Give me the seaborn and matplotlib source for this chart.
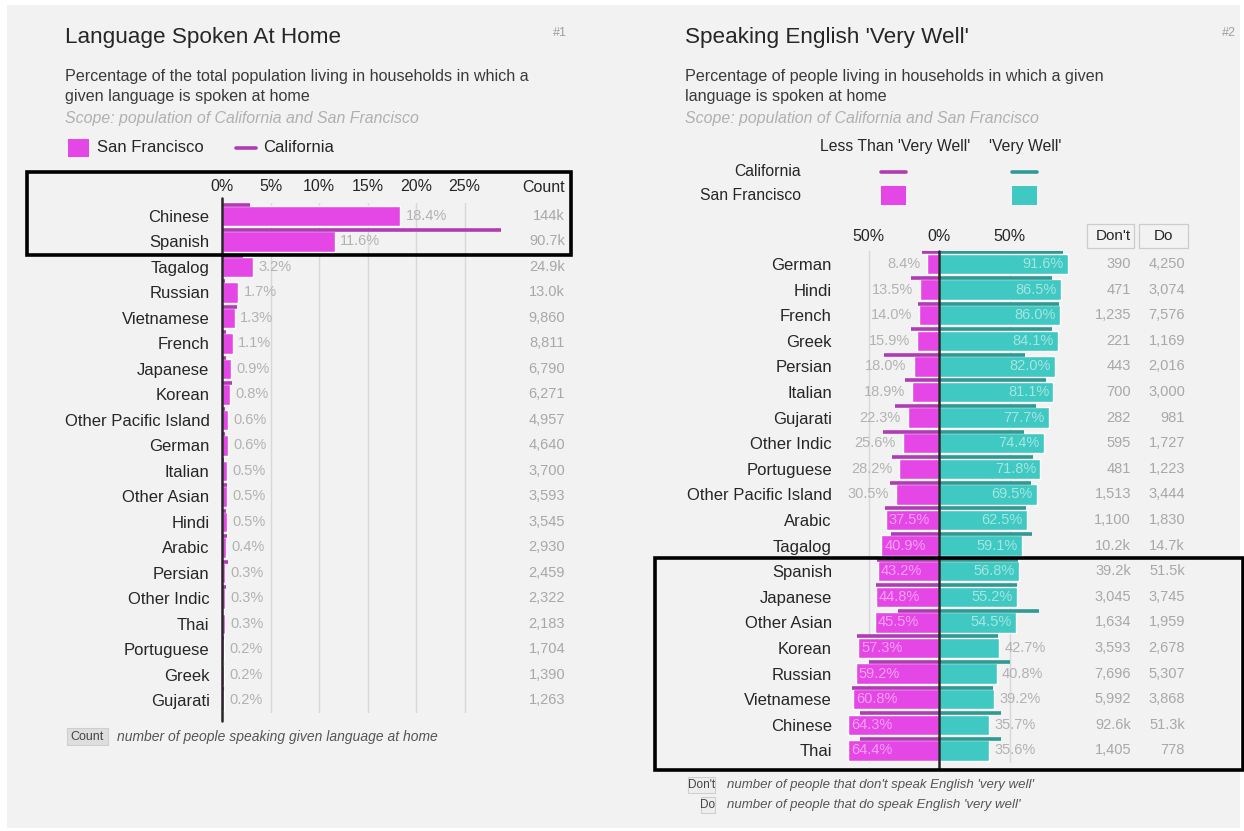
import numpy as np
import matplotlib.pyplot as plt
import matplotlib.transforms as mtransforms
from matplotlib.patches import Rectangle
from matplotlib.lines import Line2D
import seaborn as sns

# --- Data: chart #1, language spoken at home ---
home_langs = ["Chinese", "Spanish", "Tagalog", "Russian", "Vietnamese", "French",
              "Japanese", "Korean", "Other Pacific Island", "German", "Italian",
              "Other Asian", "Hindi", "Arabic", "Persian", "Other Indic", "Thai",
              "Portuguese", "Greek", "Gujarati"]
sf_home_pct = [18.4, 11.6, 3.2, 1.7, 1.3, 1.1, 0.9, 0.8, 0.6, 0.6, 0.5,
               0.5, 0.5, 0.4, 0.3, 0.3, 0.3, 0.2, 0.2, 0.2]
ca_home_pct = [2.9, 28.8, 2.2, 0.3, 1.5, 0.4, 0.4, 1.0, 0.3, 0.3, 0.2,
               0.5, 0.4, 0.5, 0.6, 0.4, 0.1, 0.2, 0.1, 0.2]
home_counts = ["144k", "90.7k", "24.9k", "13.0k", "9,860", "8,811", "6,790", "6,271",
               "4,957", "4,640", "3,700", "3,593", "3,545", "2,930", "2,459", "2,322",
               "2,183", "1,704", "1,390", "1,263"]
home_ticks = [0, 5, 10, 15, 20, 25]

# --- Data: chart #2, speaking English 'very well' ---
eng_langs = ["German", "Hindi", "French", "Greek", "Persian", "Italian", "Gujarati",
             "Other Indic", "Portuguese", "Other Pacific Island", "Arabic", "Tagalog",
             "Spanish", "Japanese", "Other Asian", "Korean", "Russian", "Vietnamese",
             "Chinese", "Thai"]
sf_less = [8.4, 13.5, 14.0, 15.9, 18.0, 18.9, 22.3, 25.6, 28.2, 30.5, 37.5, 40.9,
           43.2, 44.8, 45.5, 57.3, 59.2, 60.8, 64.3, 64.4]
sf_well = [91.6, 86.5, 86.0, 84.1, 82.0, 81.1, 77.7, 74.4, 71.8, 69.5, 62.5, 59.1,
           56.8, 55.2, 54.5, 42.7, 40.8, 39.2, 35.7, 35.6]
ca_less = [12, 20, 15, 20, 39, 24, 31, 40, 33, 35, 38, 34, 44, 45, 29, 58, 50, 62, 56, 56]
ca_well = [88, 80, 85, 80, 61, 76, 69, 60, 67, 65, 62, 66, 56, 55, 71, 42, 50, 38, 44, 44]
dont_counts = ["390", "471", "1,235", "221", "443", "700", "282", "595", "481", "1,513",
               "1,100", "10.2k", "39.2k", "3,045", "1,634", "3,593", "7,696", "5,992",
               "92.6k", "1,405"]
do_counts = ["4,250", "3,074", "7,576", "1,169", "2,016", "3,000", "981", "1,727", "1,223",
             "3,444", "1,830", "14.7k", "51.5k", "3,745", "1,959", "2,678", "5,307",
             "3,868", "51.3k", "778"]
eng_ticks = [-50, 0, 50]

# --- Style ---
sns.set_theme(style="white")
plt.rcParams["font.family"] = ["Liberation Sans", "DejaVu Sans"]

MAGENTA = "#e546e6"
CA_MAGENTA = "#b03cb4"
TEAL = "#40c8c2"
CA_TEAL = "#2f9994"
IN_MAGENTA = "#f3a2f3"
IN_TEAL = "#a4e6e2"
DARK = "#262626"
GRAY = "#b2b2b2"
BG = "#f2f2f2"

W, H = 1244, 831
fig = plt.figure(figsize=(W / 100, H / 100), dpi=100)
fig.patch.set_facecolor("white")


def fx(px):
    return px / W


def fy(py):
    return 1 - py / H


def px_axes(left, top, right, bottom):
    return fig.add_axes([fx(left), fy(bottom), (right - left) / W, (bottom - top) / H])


def ftext(px, py, s, **kw):
    kw.setdefault("va", "center")
    kw.setdefault("color", DARK)
    return fig.text(fx(px), fy(py), s, **kw)


def frect(left, top, right, bottom, **kw):
    r = Rectangle((fx(left), fy(bottom)), (right - left) / W, (bottom - top) / H,
                  transform=fig.transFigure, **kw)
    fig.add_artist(r)
    return r


def fline(x0, x1, y, **kw):
    fig.add_artist(Line2D([fx(x0), fx(x1)], [fy(y), fy(y)], transform=fig.transFigure, **kw))


# panel background
frect(7, 5, 1240, 828, facecolor=BG, edgecolor="none", zorder=-20)

# ================= Chart #1 =================
ftext(65, 38, "Language Spoken At Home", fontsize=16.2)
ftext(553, 33, "#1", fontsize=9, color="#a0a0a0")
ftext(65, 77, "Percentage of the total population living in households in which a", fontsize=11.6, color="#3a3a3a")
ftext(65, 97, "given language is spoken at home", fontsize=11.6, color="#3a3a3a")
ftext(65, 118, "Scope: population of California and San Francisco", fontsize=11.4,
      color="#b0b0b0", style="italic")
frect(68, 139, 89, 157, facecolor=MAGENTA, edgecolor="none")
ftext(97, 148, "San Francisco", fontsize=12)
fline(236, 256, 148, color=CA_MAGENTA, lw=2.6)
ftext(263, 148, "California", fontsize=12)

n = len(home_langs)
axL = px_axes(222, 203.25, 513, 713.25)
sns.barplot(x=sf_home_pct, y=home_langs, orient="h", color=MAGENTA, saturation=1,
            width=0.8, ax=axL, zorder=2)
axL.hlines(np.arange(n) - 0.45, 0, ca_home_pct, color=CA_MAGENTA, lw=2.6, zorder=3)
axL.set_xlim(0, 30)
axL.set_ylim(n - 0.5, -0.5)
axL.set_xlabel("")
axL.set_ylabel("")
axL.xaxis.tick_top()
axL.set_xticks(home_ticks)
axL.set_xticklabels([f"{t}%" for t in home_ticks])
axL.tick_params(axis="x", length=0, pad=7, labelsize=11.5, labelcolor=DARK)
axL.tick_params(axis="y", length=0, pad=9, labelsize=12, labelcolor=DARK)
axL.grid(axis="x", color="#d8d8d8", lw=1)
axL.grid(axis="y", visible=False)
axL.set_axisbelow(True)
axL.set_facecolor("none")
sns.despine(ax=axL, left=True, bottom=True, top=True, right=True)
axL.axvline(0, ymin=-0.015, ymax=1.01, color=DARK, lw=1.8, zorder=4, clip_on=False)

transL = mtransforms.blended_transform_factory(fig.transFigure, axL.transData)
for i, (v, c) in enumerate(zip(sf_home_pct, home_counts)):
    axL.annotate(f"{v:.1f}%", (v, i), xytext=(4, 0), textcoords="offset points",
                 ha="left", va="center", fontsize=10.5, color=GRAY)
    axL.text(fx(565), i, c, transform=transL, ha="right", va="center",
             fontsize=10.5, color="#a8a8a8")
ftext(565, 187, "Count", fontsize=11.5, ha="right")

# highlight box
frect(27, 172, 571, 255, facecolor="none", edgecolor="black", lw=2.6, zorder=10)

# footnote
frect(67, 728, 108, 745, facecolor="#dedede", edgecolor="#cfcfcf", lw=0.8)
ftext(87.5, 736.5, "Count", fontsize=9, ha="center", color="#444")
ftext(117, 736.5, "number of people speaking given language at home", fontsize=10,
      style="italic", color="#555")

# ================= Chart #2 =================
ftext(685, 38, "Speaking English 'Very Well'", fontsize=16.2)
ftext(1222, 33, "#2", fontsize=9, color="#a0a0a0")
ftext(685, 77, "Percentage of people living in households in which a given", fontsize=11.6, color="#3a3a3a")
ftext(685, 97, "language is spoken at home", fontsize=11.6, color="#3a3a3a")
ftext(685, 118, "Scope: population of California and San Francisco", fontsize=11.4,
      color="#b0b0b0", style="italic")

# legend grid
ftext(895, 146, "Less Than 'Very Well'", fontsize=11.3, ha="center")
ftext(1025, 146, "'Very Well'", fontsize=11.3, ha="center")
ftext(801, 172, "California", fontsize=11.3, ha="right")
ftext(801, 196, "San Francisco", fontsize=11.3, ha="right")
fline(881, 906, 172, color=CA_MAGENTA, lw=2.6)
fline(1012, 1037, 172, color=CA_TEAL, lw=2.6)
frect(881, 186, 906, 205, facecolor=MAGENTA, edgecolor="none")
frect(1012, 186, 1037, 205, facecolor=TEAL, edgecolor="none")

m = len(eng_langs)
axR = px_axes(837.5, 251.2, 1080, 763.2)
sns.barplot(x=[-v for v in sf_less], y=eng_langs, orient="h", color=MAGENTA,
            saturation=1, width=0.8, ax=axR, zorder=2)
sns.barplot(x=sf_well, y=eng_langs, orient="h", color=TEAL,
            saturation=1, width=0.8, ax=axR, zorder=2)
rows = np.arange(m) - 0.45
axR.hlines(rows, [-v for v in ca_less], 0, color=CA_MAGENTA, lw=2.6, zorder=3)
axR.hlines(rows, 0, ca_well, color=CA_TEAL, lw=2.6, zorder=3)
axR.set_xlim(-72, 100)
axR.set_ylim(m - 0.5, -0.5)
axR.set_xlabel("")
axR.set_ylabel("")
axR.xaxis.tick_top()
axR.set_xticks(eng_ticks)
axR.set_xticklabels([f"{abs(t)}%" for t in eng_ticks])
axR.tick_params(axis="x", length=0, pad=5, labelsize=11.5, labelcolor=DARK)
axR.tick_params(axis="y", length=0, pad=4, labelsize=12, labelcolor=DARK)
axR.grid(axis="x", color="#d8d8d8", lw=1)
axR.grid(axis="y", visible=False)
axR.set_axisbelow(True)
axR.set_facecolor("none")
sns.despine(ax=axR, left=True, bottom=True, top=True, right=True)
axR.axvline(0, ymin=-0.01, ymax=1.0, color=DARK, lw=1.8, zorder=4, clip_on=False)

transR = mtransforms.blended_transform_factory(fig.transFigure, axR.transData)
for i in range(m):
    lv, wv = sf_less[i], sf_well[i]
    if lv < 35:
        axR.annotate(f"{lv:.1f}%", (-lv, i), xytext=(-5, 0), textcoords="offset points",
                     ha="right", va="center", fontsize=10.5, color=GRAY)
    else:
        axR.annotate(f"{lv:.1f}%", (-lv, i), xytext=(2, 0), textcoords="offset points",
                     ha="left", va="center", fontsize=10.5, color=IN_MAGENTA, zorder=5)
    if wv >= 45:
        axR.annotate(f"{wv:.1f}%", (wv, i), xytext=(-3, 0), textcoords="offset points",
                     ha="right", va="center", fontsize=10.5, color=IN_TEAL, zorder=5)
    else:
        axR.annotate(f"{wv:.1f}%", (wv, i), xytext=(4, 0), textcoords="offset points",
                     ha="left", va="center", fontsize=10.5, color=GRAY)
    axR.text(fx(1131), i, dont_counts[i], transform=transR, ha="right", va="center",
             fontsize=10.5, color="#a8a8a8")
    axR.text(fx(1185), i, do_counts[i], transform=transR, ha="right", va="center",
             fontsize=10.5, color="#a8a8a8")

# column header boxes
frect(1087, 224, 1134, 248, facecolor="none", edgecolor="#cccccc", lw=0.9)
ftext(1131, 236, "Don't", fontsize=11, ha="right")
frect(1139, 224, 1188, 248, facecolor="none", edgecolor="#cccccc", lw=0.9)
ftext(1163, 236, "Do", fontsize=11, ha="center")

# highlight box
frect(655, 558, 1243, 770, facecolor="none", edgecolor="black", lw=2.6, zorder=10)

# footnotes
frect(688, 777, 715, 793, facecolor="#eeeeee", edgecolor="#cfcfcf", lw=0.8)
ftext(701.5, 785, "Don't", fontsize=8.5, ha="center", color="#444")
frect(701, 797, 715, 813, facecolor="#eeeeee", edgecolor="#cfcfcf", lw=0.8)
ftext(708, 805, "Do", fontsize=8.5, ha="center", color="#444")
ftext(727, 785, "number of people that don't speak English 'very well'", fontsize=9.5,
      style="italic", color="#555")
ftext(727, 805, "number of people that do speak English 'very well'", fontsize=9.5,
      style="italic", color="#555")

fig.savefig("out.png", dpi=100)
